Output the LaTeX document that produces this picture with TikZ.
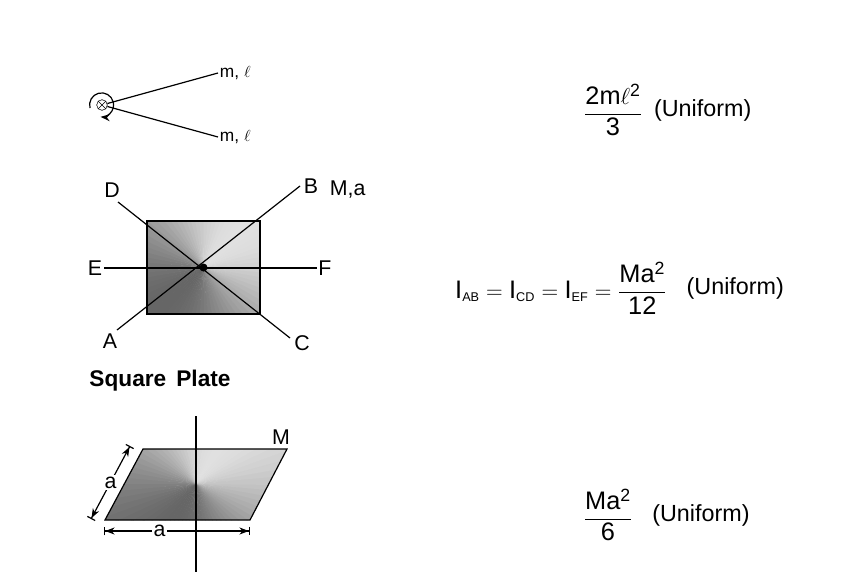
\documentclass[tikz,border=0pt]{standalone}
\usepackage{amsmath}
\usepackage{fontspec}
\setmainfont{Liberation Sans}
\usetikzlibrary{arrows.meta,calc,positioning}
\tikzstyle{lbl}=[inner sep=1pt,font=\fontsize{16}{18}\selectfont]
\tikzstyle{unif}=[inner sep=1pt,font=\fontsize{17.5}{20}\selectfont]
\tikzstyle{eqn}=[inner sep=1pt,font=\fontsize{19}{22}\selectfont]
\tikzstyle{fan}=[line width=0.1pt]
\newcommand{\fanfill}[3]{% center x, center y, brightest angle
  \foreach \t in {0,5,...,355}{
    \pgfmathsetmacro{\g}{36-24*cos(\t-#3)}
    \fill[black!\g,fan,draw=black!\g] (#1,#2) -- ++(\t:300) -- ++(\t+90:30) -- cycle;
  }}
\begin{document}
\begin{tikzpicture}[x=0.75pt,y=-0.75pt,>=Stealth,line width=0.9pt]
  \useasboundingbox (0,0) rectangle (859,585);

  % rod pair
  \node[circle,draw,inner sep=0pt,minimum size=8pt,thin] (o) at (102,105) {};
  \draw[thin] (o.north west) -- (o.south east) (o.north east) -- (o.south west);
  \coordinate (r1) at (218,73);
  \coordinate (r2) at (218,137);
  \draw (o) -- (r1);
  \draw (o) -- (r2);
  \node[lbl,anchor=west,font=\fontsize{13}{15}\selectfont] (m1) at (r1) {m, $\ell$};
  \node[lbl,anchor=west,font=\fontsize{13}{15}\selectfont] (m2) at (r2) {m, $\ell$};
  \draw[->] (90,108) arc (165:455:12);
  \node[eqn] (f1) at (613,110) {$\dfrac{\mathrm{2m\ell^2}}{\mathrm{3}}$};
  \node[unif,right=6pt of f1] (u1) {(Uniform)};

  % square plate
  \begin{scope}
    \clip (147,221) rectangle (260,314);
    \fanfill{203.5}{267.5}{-45}
  \end{scope}
  \draw (147,221) rectangle (260,314);
  \node[lbl] (D) at (112,190) {D};
  \node[lbl] (B) at (311,186) {B};
  \node[lbl,anchor=west] (Ma) at (328,190) {M,a};
  \node[lbl] (E) at (95,268) {E};
  \node[lbl] (F) at (325,268) {F};
  \node[lbl] (A) at (110,341) {A};
  \node[lbl] (C) at (302,343) {C};
  \draw (118,202) -- (290,338);
  \draw (117,330) -- (300,186);
  \draw (E) -- (F);
  \fill (203.5,267.5) circle (3pt);
  \node[lbl,font=\fontsize{17}{20}\bfseries] (sq) at (160,381) {Square\, Plate};
  \node[eqn] (f2) at (561,288) {$\mathrm{I_{\scriptscriptstyle AB}=I_{\scriptscriptstyle CD}=I_{\scriptscriptstyle EF}=\dfrac{Ma^2}{12}}$};
  \node[unif,right=12pt of f2] (u2) {(Uniform)};

  % rhombus plate
  \begin{scope}
    \clip (105,520) -- (250,520) -- (287,449) -- (143,449) -- cycle;
    \fanfill{196}{484}{-60}
  \end{scope}
  \draw (105,520) -- (250,520) -- (287,449) -- (143,449) -- cycle;
  \draw (196,416) -- (196,572);
  \node[lbl] (M) at (281,437) {M};
  \coordinate (d1) at (104,531);
  \coordinate (d2) at (250,531);
  \draw[{Bar[]Stealth[]}-{Stealth[]Bar[]}] (d1) -- node[lbl,fill=white,pos=0.38] {a} (d2);
  \coordinate (s1) at (91,519);
  \coordinate (s2) at (130,446);
  \draw[{Bar[]Stealth[]}-{Stealth[]Bar[]}] (s1) -- node[lbl,fill=white] {a} (s2);
  \node[eqn] (f3) at (608,515) {$\dfrac{\mathrm{Ma^2}}{\mathrm{6}}$};
  \node[unif,right=12pt of f3] (u3) {(Uniform)};
\end{tikzpicture}
\end{document}
